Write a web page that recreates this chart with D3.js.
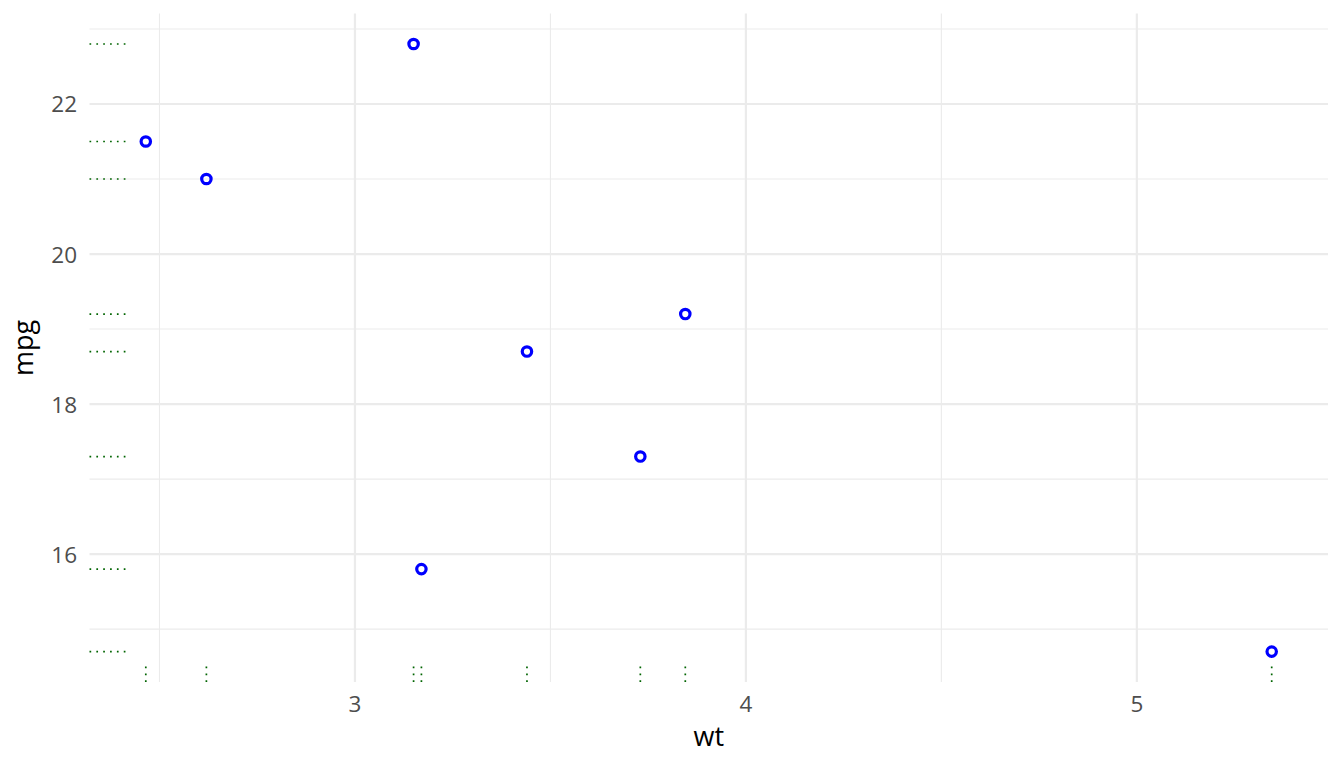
<!DOCTYPE html>
<head>
<meta charset="utf-8">
<style>
body { margin: 0; background: #fff; }
text { font-family: "Open Sans", sans-serif; }
.tick-label { fill: #4d4d4d; font-size: 22.5px; }
.axis-title { fill: #000; font-size: 27px; }
</style>
</head>
<body>
<svg width="1344" height="768"></svg>
<script src="https://d3js.org/d3.v7.min.js"></script>
<script>
// mtcars subset: weight vs mileage, with rugs on both axes
var cars = ["Mazda RX4", "Toyota Corona", "Merc 230", "Ford Pantera L",
            "Hornet Sportabout", "Merc 450SL", "Pontiac Firebird", "Chrysler Imperial"];
var wt  = [2.62, 2.465, 3.15, 3.17, 3.44, 3.73, 3.845, 5.345];
var mpg = [21.0, 21.5, 22.8, 15.8, 18.7, 17.3, 19.2, 14.7];

var xTicks = [3, 4, 5], xMinor = [2.5, 3.5, 4.5];
var yTicks = [16, 18, 20, 22], yMinor = [15, 17, 19, 21, 23];

var svg = d3.select("svg"),
    pLeft = 89.5, pRight = 1328, pTop = 13.6, pBottom = 682;

// ggplot-style 5% expansion
function expand(ext) {
  var pad = (ext[1] - ext[0]) * 0.05;
  return [ext[0] - pad, ext[1] + pad];
}

var x = d3.scaleLinear().domain(expand(d3.extent(wt))).range([pLeft, pRight]);
var y = d3.scaleLinear().domain(expand(d3.extent(mpg))).range([pBottom, pTop]);

var grid = svg.append("g");
grid.selectAll(".xminor").data(xMinor).enter().append("line")
    .attr("x1", x).attr("x2", x).attr("y1", pTop).attr("y2", pBottom)
    .attr("stroke", "#ebebeb").attr("stroke-width", 1.1);
grid.selectAll(".yminor").data(yMinor).enter().append("line")
    .attr("y1", y).attr("y2", y).attr("x1", pLeft).attr("x2", pRight)
    .attr("stroke", "#ebebeb").attr("stroke-width", 1.1);
grid.selectAll(".xmajor").data(xTicks).enter().append("line")
    .attr("x1", x).attr("x2", x).attr("y1", pTop).attr("y2", pBottom)
    .attr("stroke", "#ebebeb").attr("stroke-width", 2.2);
grid.selectAll(".ymajor").data(yTicks).enter().append("line")
    .attr("y1", y).attr("y2", y).attr("x1", pLeft).attr("x2", pRight)
    .attr("stroke", "#ebebeb").attr("stroke-width", 2.2);

// tick labels
svg.append("g").selectAll("text").data(xTicks).enter().append("text")
    .attr("class", "tick-label")
    .attr("x", x).attr("y", 712)
    .attr("text-anchor", "middle")
    .text(function(d) { return d; });

svg.append("g").selectAll("text").data(yTicks).enter().append("text")
    .attr("class", "tick-label")
    .attr("x", 77).attr("y", function(d) { return y(d) + 8.5; })
    .attr("text-anchor", "end")
    .text(function(d) { return d; });

// rugs (3% of panel)
var rugX = (pRight - pLeft) * 0.03, rugY = (pBottom - pTop) * 0.03;
var rugs = svg.append("g")
    .attr("stroke", "#006400").attr("stroke-width", 1.7)
    .attr("stroke-dasharray", "1.7,5.15");
rugs.selectAll(".rx").data(wt).enter().append("line")
    .attr("x1", x).attr("x2", x)
    .attr("y1", pBottom).attr("y2", pBottom - rugY);
rugs.selectAll(".ry").data(mpg).enter().append("line")
    .attr("y1", y).attr("y2", y)
    .attr("x1", pLeft).attr("x2", pLeft + rugX);

// points
svg.append("g").selectAll("circle").data(wt).enter().append("circle")
    .attr("cx", function(d) { return x(d); })
    .attr("cy", function(d, i) { return y(mpg[i]); })
    .attr("r", 4.7)
    .attr("fill", "none")
    .attr("stroke", "#0000ff")
    .attr("stroke-width", 3.2);

// axis titles
svg.append("text").attr("class", "axis-title")
    .attr("x", (pLeft + pRight) / 2).attr("y", 746)
    .attr("text-anchor", "middle").text("wt");
svg.append("text").attr("class", "axis-title")
    .attr("transform", "translate(33," + (pTop + pBottom) / 2 + ") rotate(-90)")
    .attr("text-anchor", "middle").text("mpg");
</script>
</body>
